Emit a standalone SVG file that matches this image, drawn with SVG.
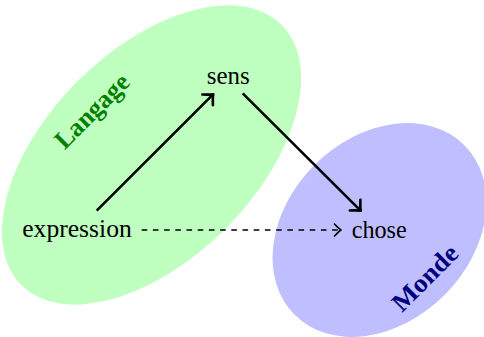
<svg xmlns="http://www.w3.org/2000/svg" width="484" height="337" viewBox="0 0 484 337">
  <style>
    .lbl { font-family: "Liberation Serif", "DejaVu Serif", serif; font-size: 25px; fill: #000; }
    .title { font-family: "Liberation Serif", "DejaVu Serif", serif; font-size: 26px; font-weight: bold; }
    .solid { fill: none; stroke: #000; stroke-width: 2.6; }
    .dashed { fill: none; stroke: #000; stroke-width: 1.7; stroke-dasharray: 5.6 5.6; }
  </style>
  <defs>
    <marker id="ahThick" markerUnits="userSpaceOnUse" viewBox="-10 -9 12 18" refX="0" refY="0" markerWidth="12" markerHeight="18" orient="auto" overflow="visible">
      <path d="M -8 -7.5 Q -2.5 -1.5 0 0 Q -2.5 1.5 -8 7.5" fill="none" stroke="#000" stroke-width="2.6" stroke-linecap="round" stroke-linejoin="round"/>
    </marker>
    <marker id="ahThin" markerUnits="userSpaceOnUse" viewBox="-10 -9 12 18" refX="0" refY="0" markerWidth="12" markerHeight="18" orient="auto" overflow="visible">
      <path d="M -6.5 -6 Q -2 -1.2 0 0 Q -2 1.2 -6.5 6" fill="none" stroke="#000" stroke-width="1.7" stroke-linecap="round" stroke-linejoin="round"/>
    </marker>
  </defs>

  <g id="langage">
    <ellipse cx="151.5" cy="155" rx="184" ry="104.5" transform="rotate(-45 151.5 155)" fill="#bfffbf"/>
    <text class="title" fill="#008000" text-anchor="middle" transform="translate(92 111) rotate(-45)" y="8.5" textLength="94" lengthAdjust="spacingAndGlyphs">Langage</text>
  </g>

  <g id="monde">
    <ellipse cx="379.5" cy="230" rx="120" ry="92" transform="rotate(-45 379.5 230)" fill="#bfbfff"/>
    <text class="title" fill="#000080" text-anchor="middle" transform="translate(425 278) rotate(-45)" y="8.5" textLength="82" lengthAdjust="spacingAndGlyphs">Monde</text>
  </g>

  <g id="sens">
    <text class="lbl" x="228.3" y="84" text-anchor="middle" textLength="43" lengthAdjust="spacingAndGlyphs">sens</text>
  </g>

  <g id="expression">
    <text class="lbl" x="77" y="236.7" text-anchor="middle" textLength="109.5" lengthAdjust="spacingAndGlyphs">expression</text>
  </g>

  <g id="chose">
    <text class="lbl" x="379.2" y="237.5" text-anchor="middle" textLength="55" lengthAdjust="spacingAndGlyphs">chose</text>
  </g>

  <g id="connectors">
    <path class="solid" d="M 96.7 210.7 L 213.3 94.2" marker-end="url(#ahThick)"/>
    <path class="solid" d="M 242.7 93.3 L 360.8 210.8" marker-end="url(#ahThick)"/>
    <path class="dashed" d="M 141.7 230 L 341 230" marker-end="url(#ahThin)"/>
  </g>
</svg>
